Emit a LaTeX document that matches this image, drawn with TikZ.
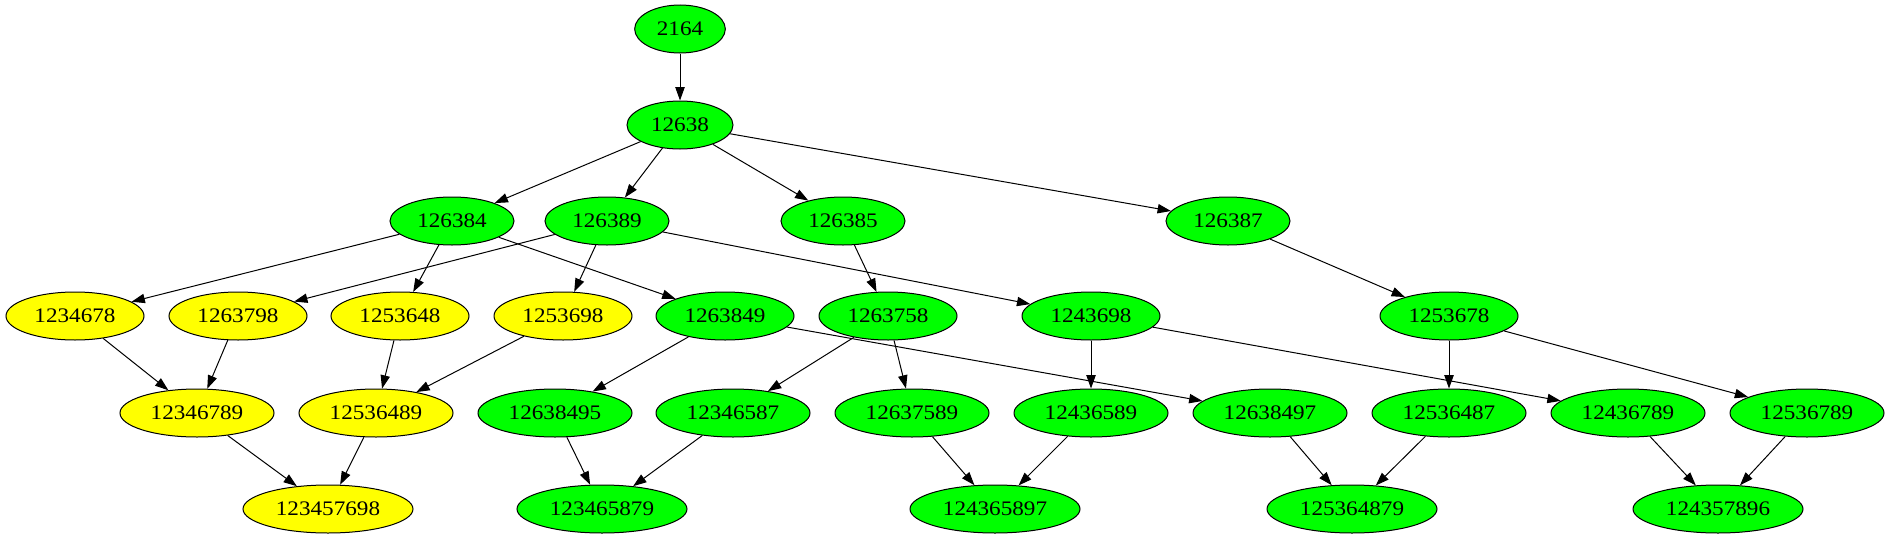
\documentclass[tikz,border=0pt]{standalone}
\usepackage{fontspec}
\setmainfont{Liberation Serif}[FakeStretch=1.12]
\usetikzlibrary{arrows.meta,shapes.geometric}
\definecolor{gvgreen}{HTML}{00FF00}
\definecolor{gvyellow}{HTML}{FFFF00}
\begin{document}
\begin{tikzpicture}[x=0.75pt,y=-0.75pt,
  nd/.style={ellipse,draw=black,line width=0.75pt,inner sep=0pt,minimum height=36pt,font=\fontsize{15.5}{17}\selectfont},
  gn/.style={nd,fill=gvgreen},
  yn/.style={nd,fill=gvyellow},
  w4/.style={minimum width=68pt},
  w5/.style={minimum width=79.5pt},
  w6/.style={minimum width=93pt},
  w7/.style={minimum width=103.5pt},
  w8/.style={minimum width=115.5pt},
  w9/.style={minimum width=127.5pt},
  ed/.style={-{Triangle[length=10pt,width=7pt]},line width=0.75pt,black}]
\useasboundingbox (0,0) rectangle (1888,539);
% row 0,1
\node[gn,w4] (n2164) at (680,29) {2164};
\node[gn,w5] (n12638) at (680,125) {12638};
% row 2
\node[gn,w6] (n126384) at (452,221) {126384};
\node[gn,w6] (n126389) at (607,221) {126389};
\node[gn,w6] (n126385) at (843,221) {126385};
\node[gn,w6] (n126387) at (1228,221) {126387};
% row 3
\node[yn,w7] (n1234678) at (75,316) {1234678};
\node[yn,w7] (n1263798) at (238,316) {1263798};
\node[yn,w7] (n1253648) at (400,316) {1253648};
\node[yn,w7] (n1253698) at (563,316) {1253698};
\node[gn,w7] (n1263849) at (725,316) {1263849};
\node[gn,w7] (n1263758) at (888,316) {1263758};
\node[gn,w7] (n1243698) at (1091,316) {1243698};
\node[gn,w7] (n1253678) at (1449,316) {1253678};
% row 4
\node[yn,w8] (n12346789) at (197,413) {12346789};
\node[yn,w8] (n12536489) at (376,413) {12536489};
\node[gn,w8] (n12638495) at (555,413) {12638495};
\node[gn,w8] (n12346587) at (733,413) {12346587};
\node[gn,w8] (n12637589) at (912,413) {12637589};
\node[gn,w8] (n12436589) at (1091,413) {12436589};
\node[gn,w8] (n12638497) at (1270,413) {12638497};
\node[gn,w8] (n12536487) at (1449,413) {12536487};
\node[gn,w8] (n12436789) at (1628,413) {12436789};
\node[gn,w8] (n12536789) at (1807,413) {12536789};
% row 5
\node[yn,w9] (n123457698) at (328,509) {123457698};
\node[gn,w9] (n123465879) at (602,509) {123465879};
\node[gn,w9] (n124365897) at (995,509) {124365897};
\node[gn,w9] (n125364879) at (1352,509) {125364879};
\node[gn,w9] (n124357896) at (1718,509) {124357896};
% edges
\draw[ed] (n2164) -- (n12638);
\draw[ed] (n12638) -- (n126384);
\draw[ed] (n12638) -- (n126389);
\draw[ed] (n12638) -- (n126385);
\draw[ed] (n12638) -- (n126387);
\draw[ed] (n126384) -- (n1234678);
\draw[ed] (n126384) -- (n1253648);
\draw[ed] (n126384) -- (n1263849);
\draw[ed] (n126389) -- (n1263798);
\draw[ed] (n126389) -- (n1253698);
\draw[ed] (n126389) -- (n1243698);
\draw[ed] (n126385) -- (n1263758);
\draw[ed] (n126387) -- (n1253678);
\draw[ed] (n1234678) -- (n12346789);
\draw[ed] (n1263798) -- (n12346789);
\draw[ed] (n1253648) -- (n12536489);
\draw[ed] (n1253698) -- (n12536489);
\draw[ed] (n1263849) -- (n12638495);
\draw[ed] (n1263849) -- (n12638497);
\draw[ed] (n1263758) -- (n12346587);
\draw[ed] (n1263758) -- (n12637589);
\draw[ed] (n1243698) -- (n12436589);
\draw[ed] (n1243698) -- (n12436789);
\draw[ed] (n1253678) -- (n12536487);
\draw[ed] (n1253678) -- (n12536789);
\draw[ed] (n12346789) -- (n123457698);
\draw[ed] (n12536489) -- (n123457698);
\draw[ed] (n12638495) -- (n123465879);
\draw[ed] (n12346587) -- (n123465879);
\draw[ed] (n12637589) -- (n124365897);
\draw[ed] (n12436589) -- (n124365897);
\draw[ed] (n12638497) -- (n125364879);
\draw[ed] (n12536487) -- (n125364879);
\draw[ed] (n12436789) -- (n124357896);
\draw[ed] (n12536789) -- (n124357896);
\end{tikzpicture}
\end{document}
